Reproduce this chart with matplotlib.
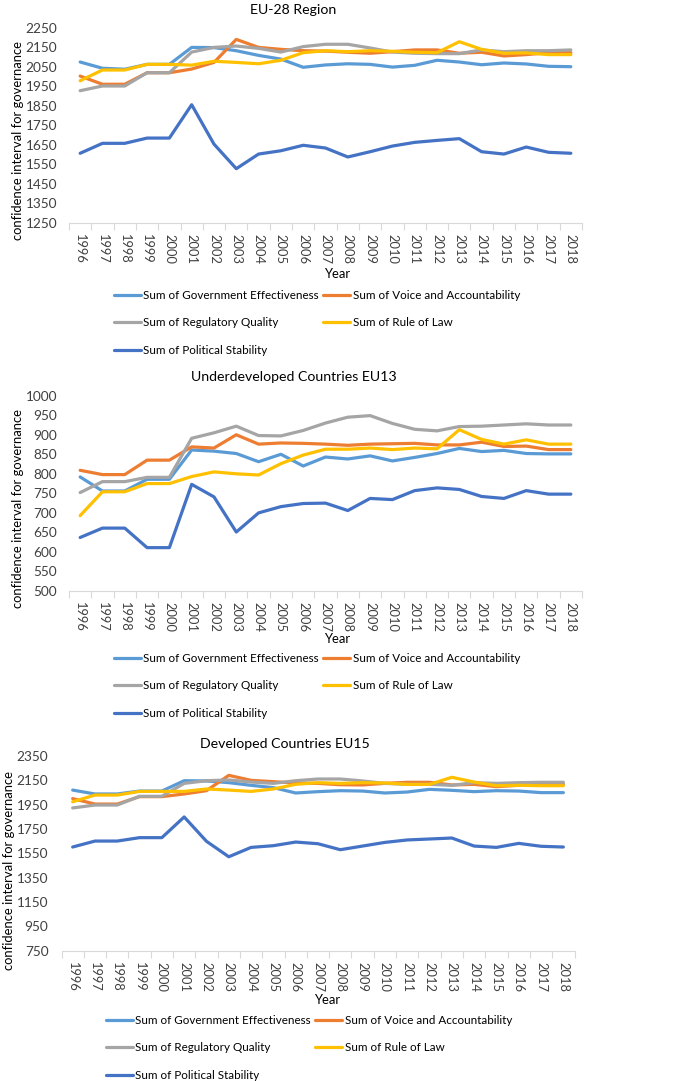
import numpy as np
import matplotlib
matplotlib.use("Agg")
import matplotlib.pyplot as plt

plt.rcParams['font.family'] = ['Lato', 'DejaVu Sans']

years = [str(y) for y in range(1996, 2019)]

series_names = ["Sum of Government Effectiveness", "Sum of Voice and Accountability",
                "Sum of Regulatory Quality", "Sum of Rule of Law",
                "Sum of Political Stability"]
colors = ["#5B9BD5", "#ED7D31", "#A5A5A5", "#FFC000", "#4472C4"]

# EU-28 Region
eu28_gov = [2074, 2042, 2037, 2062, 2062, 2149, 2148, 2132, 2108, 2089, 2047, 2059,
            2065, 2062, 2048, 2057, 2083, 2074, 2060, 2069, 2064, 2052, 2050]
eu28_voice = [2002, 1960, 1960, 2019, 2019, 2038, 2072, 2190, 2149, 2139, 2132, 2130,
              2124, 2119, 2127, 2136, 2136, 2119, 2124, 2105, 2112, 2122, 2122]
eu28_reg = [1927, 1951, 1951, 2019, 2019, 2125, 2149, 2156, 2144, 2125, 2153, 2165,
            2165, 2146, 2125, 2119, 2117, 2117, 2136, 2127, 2132, 2132, 2136]
eu28_law = [1978, 2033, 2033, 2062, 2062, 2058, 2078, 2072, 2065, 2083, 2122, 2132,
            2127, 2132, 2129, 2124, 2122, 2178, 2139, 2119, 2121, 2112, 2112]
eu28_pol = [1606, 1657, 1657, 1684, 1684, 1855, 1653, 1527, 1602, 1619, 1647, 1633,
            1587, 1614, 1643, 1662, 1672, 1681, 1614, 1602, 1638, 1611, 1606]

# Underdeveloped Countries EU13
eu13_gov = [792, 756, 756, 786, 786, 861, 858, 852, 831, 850, 820, 843,
            838, 846, 833, 842, 852, 865, 857, 860, 852, 851, 851]
eu13_voice = [809, 798, 798, 835, 835, 869, 866, 900, 876, 879, 878, 876,
              873, 876, 877, 878, 874, 874, 881, 870, 871, 862, 862]
eu13_reg = [752, 780, 780, 791, 791, 891, 905, 922, 898, 897, 911, 930,
            945, 949, 929, 914, 910, 921, 922, 925, 928, 925, 925]
eu13_law = [693, 754, 754, 775, 775, 793, 805, 800, 797, 826, 848, 863,
            863, 866, 862, 866, 864, 913, 888, 876, 887, 876, 876]
eu13_pol = [637, 661, 661, 611, 611, 773, 741, 651, 700, 716, 724, 725,
            706, 737, 734, 757, 764, 760, 742, 737, 757, 748, 748]

# Developed Countries EU15
eu15_gov = [2070, 2038, 2038, 2062, 2062, 2147, 2145, 2131, 2109, 2090, 2046, 2057,
            2065, 2062, 2046, 2054, 2076, 2068, 2057, 2065, 2062, 2049, 2049]
eu15_voice = [2000, 1955, 1955, 2016, 2016, 2038, 2065, 2191, 2150, 2139, 2128, 2125,
              2114, 2112, 2125, 2134, 2134, 2112, 2117, 2098, 2109, 2120, 2120]
eu15_reg = [1923, 1947, 1947, 2019, 2019, 2125, 2147, 2153, 2136, 2125, 2147, 2161,
            2161, 2145, 2125, 2117, 2117, 2109, 2131, 2125, 2131, 2134, 2134]
eu15_law = [1974, 2029, 2029, 2059, 2059, 2059, 2079, 2070, 2059, 2079, 2117, 2131,
            2125, 2131, 2128, 2117, 2117, 2175, 2136, 2106, 2109, 2106, 2106]
eu15_pol = [1602, 1651, 1651, 1679, 1679, 1849, 1649, 1522, 1599, 1613, 1643, 1629,
            1580, 1610, 1640, 1660, 1668, 1676, 1610, 1599, 1632, 1608, 1602]

W, H = 685, 1081
fig = plt.figure(figsize=(W / 100, H / 100), dpi=100)


def px_axes(left, top, right, bottom):
    return fig.add_axes([left / W, 1 - bottom / H, (right - left) / W, (bottom - top) / H])


def draw_panel(box, title, title_xy, data, yticks, ylabel_xy, year_xy, legend_xy, ypad):
    ax = px_axes(*box)
    x = np.arange(len(years))
    lines = []
    for vals, c, name in zip(data, colors, series_names):
        ln, = ax.plot(x, vals, color=c, lw=2.3, label=name, solid_capstyle='round')
        lines.append(ln)
    ax.set_xlim(-0.5, len(years) - 0.5)
    ax.set_ylim(yticks[0], yticks[-1])
    ax.set_yticks(yticks)
    ax.set_xticks(x)
    ax.set_xticklabels(years, rotation=270)
    ax.set_xticks(np.arange(-0.5, len(years)), minor=True)
    ax.tick_params(axis='x', which='major', length=0, pad=8, labelsize=9.3, colors='#404040')
    ax.tick_params(axis='x', which='minor', length=5, color='#d9d9d9', width=0.8)
    ax.tick_params(axis='y', length=0, pad=ypad, labelsize=9.8, colors='#404040')
    for s in ['top', 'right', 'left']:
        ax.spines[s].set_visible(False)
    ax.spines['bottom'].set_color('#d9d9d9')
    ax.patch.set_alpha(0)

    fig.text(title_xy[0] / W, 1 - title_xy[1] / H, title, ha='center', va='center',
             fontsize=10.2, color='#000000')
    fig.text(ylabel_xy[0] / W, 1 - ylabel_xy[1] / H, "confidence interval for governance",
             rotation=90, ha='center', va='center', fontsize=9.4, color='#000000')
    fig.text(year_xy[0] / W, 1 - year_xy[1] / H, "Year", ha='center', va='center',
             fontsize=9.4, color='#000000')
    order = [0, 2, 4, 1, 3]
    fig.legend([lines[i] for i in order], [series_names[i] for i in order],
               loc='upper left', bbox_to_anchor=(legend_xy[0] / W, 1 - legend_xy[1] / H),
               ncol=2, frameon=False, fontsize=8.4, handlelength=2.3, handletextpad=0.2,
               columnspacing=0.4, labelspacing=1.4, borderpad=0, borderaxespad=0)


draw_panel((69, 27.7, 582, 222.7), "EU-28 Region", (293, 10),
           [eu28_gov, eu28_voice, eu28_reg, eu28_law, eu28_pol],
           list(range(1250, 2251, 100)), (18, 140), (337, 274), (114, 290), 8.5)

draw_panel((69, 395.7, 582, 591), "Underdeveloped Countries EU13", (294, 377),
           [eu13_gov, eu13_voice, eu13_reg, eu13_law, eu13_pol],
           list(range(500, 1001, 50)), (18, 508), (337, 639), (114, 653), 8.5)

draw_panel((61.5, 756, 574.5, 950.7), "Developed Countries EU15", (285, 744),
           [eu15_gov, eu15_voice, eu15_reg, eu15_law, eu15_pol],
           list(range(750, 2351, 200)), (9, 870), (327, 1000), (106, 1015), 9.4)

fig.savefig("out.png", dpi=100)
